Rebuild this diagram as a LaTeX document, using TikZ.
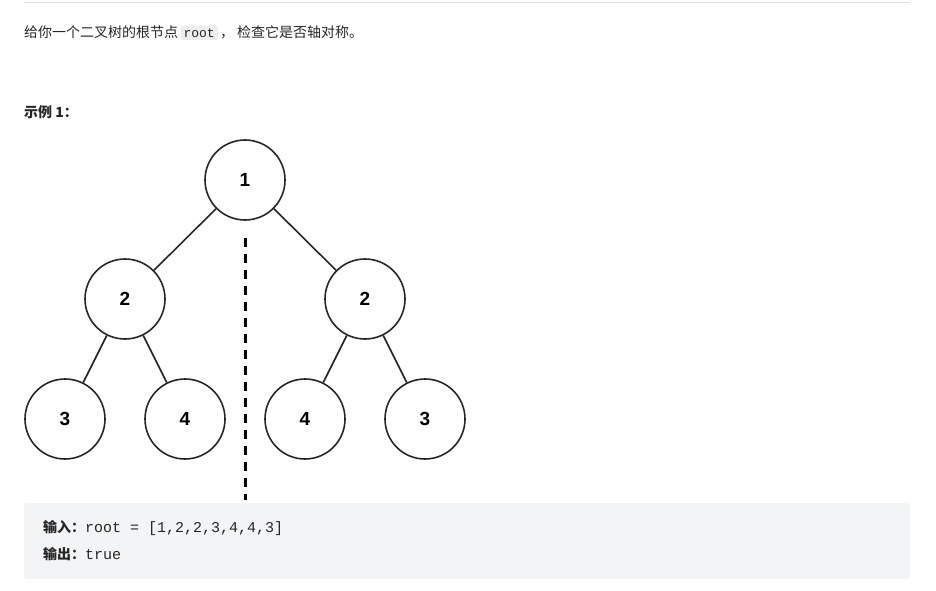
\documentclass[tikz,border=0pt]{standalone}
\usepackage{fontspec}
\setmainfont{Liberation Sans}
\setmonofont{Liberation Mono}
\newfontfamily\cjk{Noto Sans CJK SC}
\definecolor{boxgray}{HTML}{F3F4F5}
\definecolor{codegray}{HTML}{EEEEEE}
\definecolor{textgray}{HTML}{262626}
\tikzset{
  treenode/.style={draw=black!85, line width=1.6pt, circle, minimum size=80pt, inner sep=0pt, font=\fontsize{19}{22}\selectfont\bfseries},
  treeedge/.style={draw=black!85, line width=1.6pt},
  mirror/.style={draw=black, line width=3pt, dash pattern=on 9pt off 7pt},
  plaintext/.style={anchor=west, inner sep=0pt, text=textgray, font=\fontsize{14}{16}\selectfont\cjk}
}
\begin{document}
\begin{tikzpicture}[x=1pt, y=-1pt]
\useasboundingbox (0,0) rectangle (936,591);
\draw[black!12, line width=1pt] (24,3) -- (910,3);
% question text
\node[plaintext] (ask) at (24,33) {给你一个二叉树的根节点\,\colorbox{codegray}{\ttfamily\fontsize{13}{15}\selectfont root}\,，\ 检查它是否轴对称。};
\node[plaintext, font=\fontsize{14}{16}\selectfont\cjk\bfseries] (example) at (24,112) {示例 1：};
% tree
\node[treenode] (r) at (245,180) {1};
\node[treenode] (l) at (125,299) {2};
\node[treenode] (rr) at (365,299) {2};
\node[treenode] (ll) at (65,419) {3};
\node[treenode] (lr) at (185,419) {4};
\node[treenode] (rl) at (305,419) {4};
\node[treenode] (rrr) at (425,419) {3};
\draw[treeedge] (r) -- (l);
\draw[treeedge] (r) -- (rr);
\draw[treeedge] (l) -- (ll);
\draw[treeedge] (l) -- (lr);
\draw[treeedge] (rr) -- (rl);
\draw[treeedge] (rr) -- (rrr);
\coordinate (axtop) at (245,238);
\coordinate (axbot) at (245,500);
\draw[mirror] (axtop) -- (axbot);
% result box
\fill[boxgray, rounded corners=3pt] (24,503) rectangle (910,579);
\node[plaintext] (input) at (43,528) {{\bfseries 输入：}\ttfamily\fontsize{15}{17}\selectfont root = [1,2,2,3,4,4,3]};
\node[plaintext] (output) at (43,554) {{\bfseries 输出：}\ttfamily\fontsize{15}{17}\selectfont true};
\end{tikzpicture}
\end{document}
